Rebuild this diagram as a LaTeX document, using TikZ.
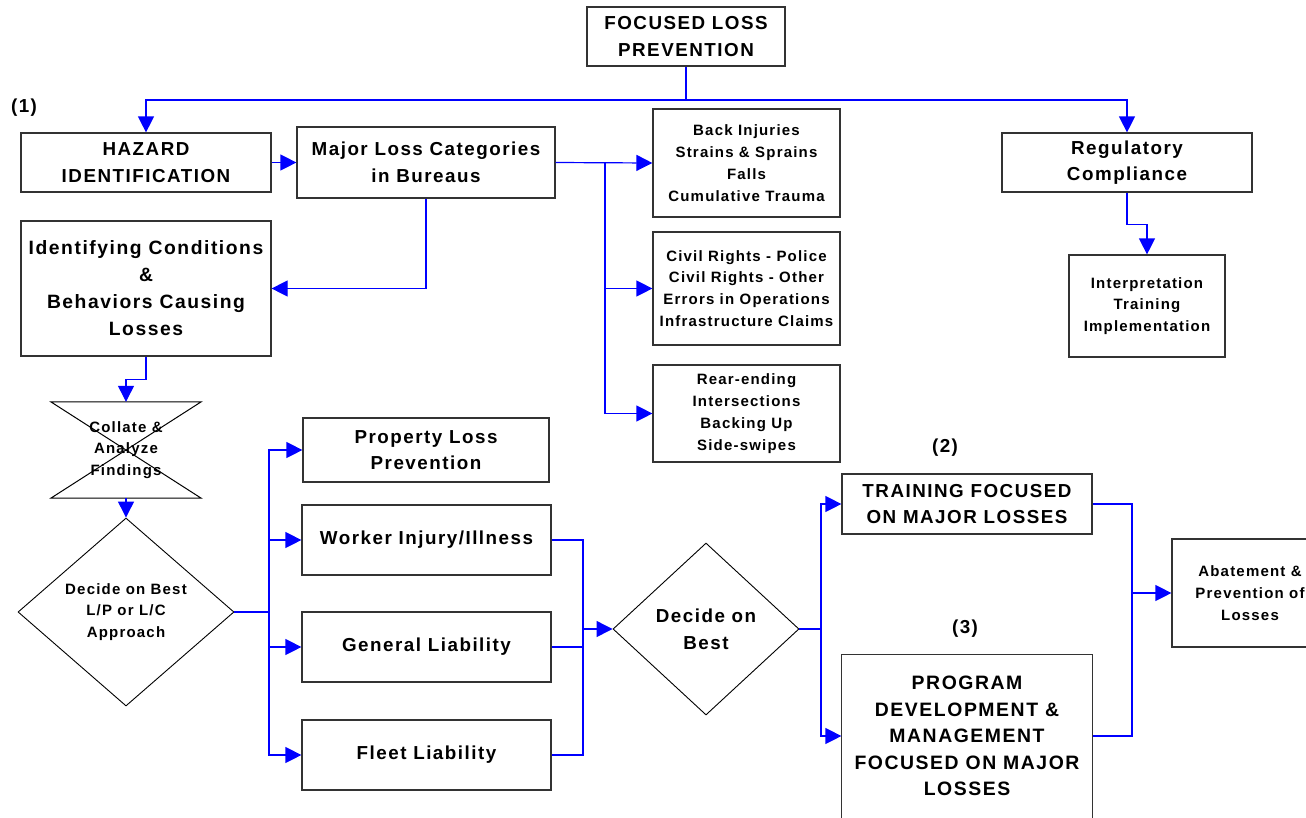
\documentclass[tikz,border=0pt]{standalone}
\usepackage{fontspec}
\setmainfont{Liberation Sans}[LetterSpace=8]
\usetikzlibrary{arrows.meta,shapes.geometric}
\newcommand\lblbig{\fontsize{18.8}{26.7}\selectfont\bfseries}
\newcommand\lblmid{\fontsize{19.3}{27}\selectfont\bfseries}
\newcommand\lblsmall{\fontsize{15}{21.8}\selectfont\bfseries}
\begin{document}
\begin{tikzpicture}[x=1pt,y=-1pt,
  box/.style={draw=black!80,line width=1.2pt,rectangle,inner sep=0pt,align=center,font=\lblbig},
  smallbox/.style={box,font=\lblsmall},
  dia/.style={draw=black,line width=0.9pt,shape=diamond,inner sep=0pt,align=center},
  conn/.style={draw=blue,line width=1.2pt,-{Triangle[length=16pt,width=16pt]}},
  link/.style={draw=blue,line width=1.2pt},
  tag/.style={inner sep=0pt,font=\lblbig}]
\useasboundingbox (0,0) rectangle (1306,817);

% boxes of the top row
\node[box,minimum width=198,minimum height=59] (top) at (686,36.5) {FOCUSED LOSS\\PREVENTION};
\node[box,minimum width=250,minimum height=59] (haz) at (146,162.5) {HAZARD\\IDENTIFICATION};
\node[box,minimum width=258,minimum height=71] (major) at (426,162.5) {Major Loss Categories\\in Bureaus};
\node[box,minimum width=250,minimum height=59] (reg) at (1127,162.5) {Regulatory\\Compliance};
\node[tag] (n1) at (24,108) {(1)};

% loss categories
\node[smallbox,minimum width=187,minimum height=108] (back) at (746.5,163) {Back Injuries\\Strains \& Sprains\\Falls\\Cumulative Trauma};
\node[smallbox,minimum width=187,minimum height=113] (civil) at (746.5,288.5) {Civil Rights - Police\\Civil Rights - Other\\Errors in Operations\\Infrastructure Claims};
\node[smallbox,minimum width=187,minimum height=97] (rear) at (746.5,413.5) {Rear-ending\\Intersections\\Backing Up\\Side-swipes};
\node[smallbox,minimum width=156,minimum height=102] (interp) at (1147,306) {Interpretation\\Training\\Implementation};

% left column
\node[box,font=\lblmid,minimum width=250,minimum height=135] (ident) at (146,288.5) {Identifying Conditions\\\&\\Behaviors Causing\\Losses};
\node[inner sep=0pt,align=center,font=\lblsmall,minimum width=150,minimum height=96] (collate) at (126,450) {Collate \&\\Analyze\\Findings};
\draw[black,line width=1pt] (collate.north west) -- (collate.north east) -- (collate.south west) -- (collate.south east) -- cycle;
\node[dia,font=\lblsmall,aspect=1.15,minimum width=216,minimum height=188] (dec1) at (126,612) {Decide on Best\\L/P or L/C\\Approach};

% program areas
\node[box,minimum width=246,minimum height=64] (prop) at (426,450) {Property Loss\\Prevention};
\node[box,minimum width=249,minimum height=70] (worker) at (426.5,540) {Worker Injury/Illness};
\node[box,minimum width=249,minimum height=70] (general) at (426.5,647) {General Liability};
\node[box,minimum width=249,minimum height=70] (fleet) at (426.5,755) {Fleet Liability};

% right part
\node[dia,font=\lblbig,aspect=1.08,minimum width=186,minimum height=172] (dec2) at (706,629) {Decide on\\Best};
\node[box,minimum width=250,minimum height=60] (train) at (967,504) {TRAINING FOCUSED\\ON MAJOR LOSSES};
% the lower box runs past the bottom edge, so its outline is left open there
\node[box,draw=none,font=\fontsize{19.4}{26.5}\selectfont\bfseries,minimum width=250,minimum height=162] (prog) at (967,736) {PROGRAM\\DEVELOPMENT \&\\MANAGEMENT\\FOCUSED ON MAJOR\\LOSSES};
\draw[black!80,line width=1.2pt] (prog.south west) ++(0,10) -- (prog.north west) -- (prog.north east) -- ++(0,172);
\node[smallbox,minimum width=156,minimum height=108] (abate) at (1250,593) {Abatement \&\\Prevention of\\Losses};
\node[tag] (n2) at (945,448) {(2)};
\node[tag] (n3) at (965,629) {(3)};

% junction points
\coordinate (jt) at (686,100);
\coordinate (jm) at (605,162.5);
\coordinate (jd) at (269,612);
\coordinate (jr) at (583,629);
\coordinate (jd2) at (821,629);
\coordinate (ja) at (1132,593);

% connectors
\draw[link] (top.south) -- (jt);
\draw[conn] (jt) -| (haz.north);
\draw[conn] (jt) -| (reg.north);
\draw[conn] (haz.east) -- (major.west);
\draw[conn] (major.east) -- (back.west);
\draw[conn] (jm) |- (civil.west);
\draw[conn] (jm) |- (rear.west);
\draw[conn] (major.south) |- (ident.east);
\draw[conn] (reg.south) -- ++(0,32) -| (interp.north);
\draw[conn] (ident.south) -- ++(0,23) -| (collate.north);
\draw[conn] (collate.south) -- (dec1.north);
\draw[link] (dec1.east) -- (jd);
\draw[conn] (jd) |- (prop.west);
\draw[conn] (jd) |- (worker.west);
\draw[conn] (jd) |- (general.west);
\draw[conn] (jd) |- (fleet.west);
\draw[link] (worker.east) -| (jr);
\draw[link] (general.east) -| (jr);
\draw[link] (fleet.east) -| (jr);
\draw[conn] (jr) -- (dec2.west);
\draw[link] (dec2.east) -- (jd2);
\draw[conn] (jd2) |- (train.west);
\draw[conn] (jd2) |- (prog.west);
\draw[link] (train.east) -| (ja);
\draw[link] (prog.east) -| (ja);
\draw[conn] (ja) -- (abate.west);
\end{tikzpicture}
\end{document}
